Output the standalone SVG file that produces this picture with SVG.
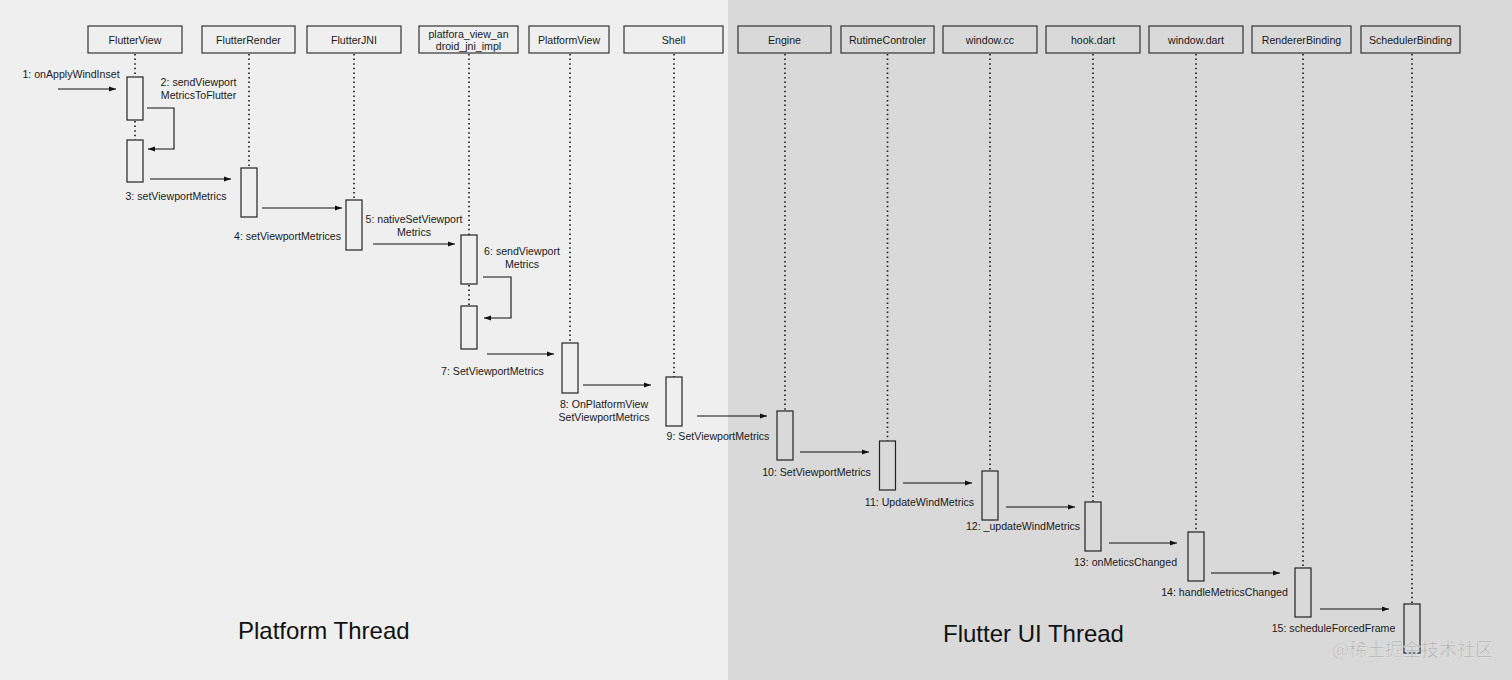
<svg xmlns="http://www.w3.org/2000/svg" width="1512" height="680" viewBox="0 0 1512 680">
<defs>
<marker id="ah" markerWidth="8" markerHeight="6" refX="7" refY="3" orient="auto" markerUnits="userSpaceOnUse">
<path d="M0,0.5 L7,3 L0,5.5 Z" fill="#111"/>
</marker>
<style>
.hdr{fill:none;stroke:#333;stroke-width:1.2}
.ht{font-family:"Liberation Sans",Arial,sans-serif;font-size:10.6px;fill:#1a1a1a;text-anchor:middle}
.life{stroke:#222;stroke-width:1.7;stroke-dasharray:1.5 3.1;fill:none}
.bar{fill:none;stroke:#222;stroke-width:1.2}
.msg{stroke:#111;stroke-width:1.1;fill:none;marker-end:url(#ah)}
.lbl{font-family:"Liberation Sans",Arial,sans-serif;font-size:10.6px;fill:#1a1a1a;text-anchor:middle}
.big{font-family:"Liberation Sans",Arial,sans-serif;font-size:24px;fill:#111}
.wm{font-family:"Noto Sans CJK SC","Liberation Sans",sans-serif;font-size:18px;fill:#ababab;stroke:#e6e6e6;stroke-width:0.5}
</style>
</defs>
<rect x="0" y="0" width="728" height="680" fill="#efefef"/>
<rect x="728" y="0" width="784" height="680" fill="#d9d9d9"/>

<g id="FlutterView">
<rect class="hdr" x="88" y="26" width="94" height="27"/>
<text class="ht" x="135" y="43.5">FlutterView</text>
<path class="life" d="M135 54V77M135 121V140"/>
<rect class="bar" x="127" y="77" width="16" height="43"/>
<rect class="bar" x="127" y="140" width="16" height="42"/>
</g>
<g id="FlutterRender">
<rect class="hdr" x="202" y="26" width="93" height="27"/>
<text class="ht" x="248.5" y="43.5">FlutterRender</text>
<path class="life" d="M249 54V168"/>
<rect class="bar" x="241" y="168" width="16" height="49"/>
</g>
<g id="FlutterJNI">
<rect class="hdr" x="307" y="26" width="94" height="27"/>
<text class="ht" x="354" y="43.5">FlutterJNI</text>
<path class="life" d="M354 54V200"/>
<rect class="bar" x="346" y="200" width="16" height="50"/>
</g>
<g id="platfora_view_android_jni_impl">
<rect class="hdr" x="419" y="26" width="99" height="27"/>
<text class="ht" x="468.5" y="38">platfora_view_an</text>
<text class="ht" x="468.5" y="50">droid_jni_impl</text>
<path class="life" d="M469 54V235M469 285V306"/>
<rect class="bar" x="461" y="235" width="16" height="49"/>
<rect class="bar" x="461" y="306" width="16" height="43"/>
</g>
<g id="PlatformView">
<rect class="hdr" x="529" y="26" width="80" height="27"/>
<text class="ht" x="569" y="43.5">PlatformView</text>
<path class="life" d="M570 54V343"/>
<rect class="bar" x="562" y="343" width="16" height="50"/>
</g>
<g id="Shell">
<rect class="hdr" x="624" y="26" width="99" height="27"/>
<text class="ht" x="673.5" y="43.5">Shell</text>
<path class="life" d="M674 54V377"/>
<rect class="bar" x="666" y="377" width="16" height="49"/>
</g>
<g id="Engine">
<rect class="hdr" x="738" y="26" width="93" height="27"/>
<text class="ht" x="784.5" y="43.5">Engine</text>
<path class="life" d="M785 54V411"/>
<rect class="bar" x="777" y="411" width="16" height="49"/>
</g>
<g id="RutimeControler">
<rect class="hdr" x="841" y="26" width="93" height="27"/>
<text class="ht" x="887.5" y="43.5">RutimeControler</text>
<path class="life" d="M887.5 54V441"/>
<rect class="bar" x="879.5" y="441" width="16" height="49"/>
</g>
<g id="window_cc">
<rect class="hdr" x="943" y="26" width="94" height="27"/>
<text class="ht" x="990" y="43.5">window.cc</text>
<path class="life" d="M990 54V471"/>
<rect class="bar" x="982" y="471" width="16" height="49"/>
</g>
<g id="hook_dart">
<rect class="hdr" x="1046" y="26" width="94" height="27"/>
<text class="ht" x="1093" y="43.5">hook.dart</text>
<path class="life" d="M1093 54V502"/>
<rect class="bar" x="1085" y="502" width="16" height="49"/>
</g>
<g id="window_dart">
<rect class="hdr" x="1149" y="26" width="94" height="27"/>
<text class="ht" x="1196" y="43.5">window.dart</text>
<path class="life" d="M1196 54V532"/>
<rect class="bar" x="1188" y="532" width="16" height="49"/>
</g>
<g id="RendererBinding">
<rect class="hdr" x="1252" y="26" width="99" height="27"/>
<text class="ht" x="1301.5" y="43.5">RendererBinding</text>
<path class="life" d="M1303 54V568"/>
<rect class="bar" x="1295" y="568" width="16" height="49"/>
</g>
<g id="SchedulerBinding">
<rect class="hdr" x="1361" y="26" width="99" height="27"/>
<text class="ht" x="1410.5" y="43.5">SchedulerBinding</text>
<path class="life" d="M1412 54V604"/>
<rect class="bar" x="1404" y="604" width="16" height="49"/>
</g>

<g id="connectors">
<line class="msg" x1="58" y1="89" x2="116" y2="89"/>
<path class="msg" d="M147 108H174V149H148"/>
<line class="msg" x1="150" y1="179" x2="231" y2="179"/>
<line class="msg" x1="262" y1="208" x2="342" y2="208"/>
<line class="msg" x1="373" y1="244" x2="455" y2="244"/>
<path class="msg" d="M483 277H511V318H484"/>
<line class="msg" x1="487" y1="354" x2="554" y2="354"/>
<line class="msg" x1="583" y1="385" x2="651" y2="385"/>
<line class="msg" x1="697" y1="416" x2="767" y2="416"/>
<line class="msg" x1="800" y1="452" x2="869" y2="452"/>
<line class="msg" x1="903" y1="483" x2="972" y2="483"/>
<line class="msg" x1="1006" y1="507" x2="1075" y2="507"/>
<line class="msg" x1="1109" y1="543" x2="1177" y2="543"/>
<line class="msg" x1="1211" y1="573" x2="1280" y2="573"/>
<line class="msg" x1="1320" y1="609" x2="1389" y2="609"/>
</g>

<g id="labels">
<text class="lbl" x="71" y="78">1: onApplyWindInset</text>
<text class="lbl" x="198.5" y="86">2: sendViewport</text>
<text class="lbl" x="198.5" y="99">MetricsToFlutter</text>
<text class="lbl" x="176" y="200">3: setViewportMetrics</text>
<text class="lbl" x="287.5" y="240">4: setViewportMetrices</text>
<text class="lbl" x="414" y="223">5: nativeSetViewport</text>
<text class="lbl" x="414" y="236">Metrics</text>
<text class="lbl" x="522" y="255">6: sendViewport</text>
<text class="lbl" x="522" y="268">Metrics</text>
<text class="lbl" x="492.5" y="375">7: SetViewportMetrics</text>
<text class="lbl" x="604" y="408">8: OnPlatformView</text>
<text class="lbl" x="604" y="421">SetViewportMetrics</text>
<text class="lbl" x="718" y="440">9: SetViewportMetrics</text>
<text class="lbl" x="816.5" y="476">10: SetViewportMetrics</text>
<text class="lbl" x="919.5" y="506">11: UpdateWindMetrics</text>
<text class="lbl" x="1023" y="530">12: _updateWindMetrics</text>
<text class="lbl" x="1125.5" y="566">13: onMeticsChanged</text>
<text class="lbl" x="1224.5" y="596">14: handleMetricsChanged</text>
<text class="lbl" x="1333.5" y="632">15: scheduleForcedFrame</text>
</g>

<text class="big" x="238" y="639">Platform Thread</text>
<text class="big" x="943" y="642">Flutter UI Thread</text>
<text class="wm" x="1332" y="656">@稀土掘金技术社区</text>
</svg>
